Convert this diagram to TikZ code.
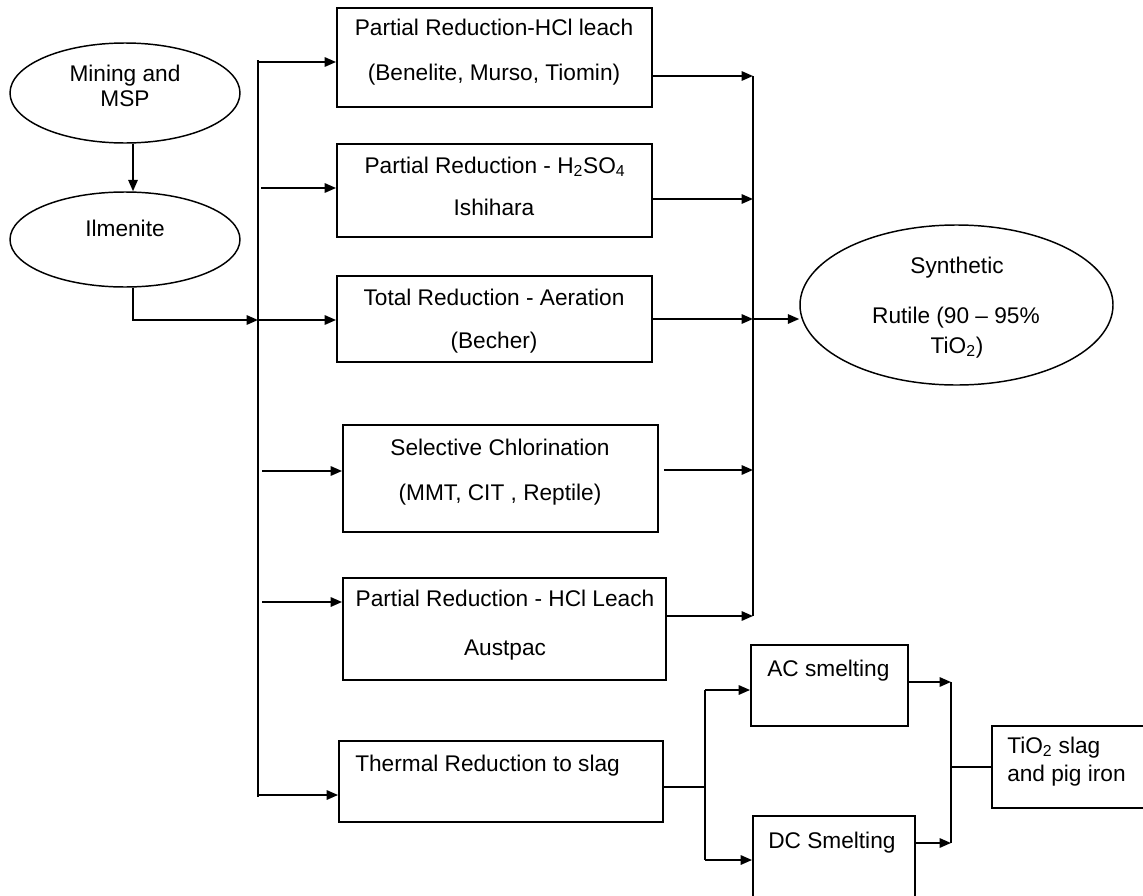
\documentclass[tikz,border=0pt]{standalone}
\usepackage{fontspec}
\setmainfont{Liberation Sans}
\usetikzlibrary{shapes.geometric,arrows.meta}
\newcommand\dfont{\fontsize{17}{20}\selectfont}
\begin{document}
\begin{tikzpicture}[x=0.75pt,y=-0.75pt,
  boxst/.style={draw,line width=1.4pt,rectangle,inner sep=0},
  ellst/.style={draw,line width=1.1pt,ellipse,inner sep=0},
  lbl/.style={inner sep=0,anchor=base,font=\dfont},
  lbll/.style={inner sep=0,anchor=base west,font=\dfont},
  conn/.style={line width=1.4pt},
  arr/.style={line width=1.4pt,-{Triangle[length=8.5pt,width=7pt]}}]
\clip (0,0) rectangle (1143,896);
\fill[white] (0,0) rectangle (1143,896);

% ellipses
\node[ellst,minimum width=172.5pt,minimum height=75pt] (mining) at (125,93) {};
\node[ellst,minimum width=172.5pt,minimum height=71.25pt] (ilm) at (125,239.5) {};
\node[ellst,minimum width=234.75pt,minimum height=120pt] (syn) at (956.5,305) {};
\node[lbl] (tmin1) at (125,81) {Mining and};
\node[lbl] (tmin2) at (125,106) {MSP};
\node[lbl] (tilm) at (125,236) {Ilmenite};
\node[lbl] (tsyn1) at (957,273) {Synthetic};
\node[lbl] (tsyn2) at (956,323) {Rutile (90 \textendash{} 95\%};
\node[lbl] (tsyn3) at (957,353) {TiO\textsubscript{2})};

% process boxes
\node[boxst,minimum width=236.25pt,minimum height=74.25pt] (b1) at (494.5,57.5) {};
\node[boxst,minimum width=236.25pt,minimum height=69.75pt] (b2) at (494.5,190.5) {};
\node[boxst,minimum width=236.25pt,minimum height=64.5pt] (b3) at (494.5,319) {};
\node[boxst,minimum width=236.25pt,minimum height=80.25pt] (b4) at (500.5,478.5) {};
\node[boxst,minimum width=242.25pt,minimum height=76.5pt] (b5) at (504.5,629) {};
\node[boxst,minimum width=243pt,minimum height=60.75pt] (b6) at (501,781.5) {};
\node[boxst,minimum width=117.75pt,minimum height=60.75pt] (ac) at (829.5,685.5) {};
\node[boxst,minimum width=121.5pt,minimum height=70.5pt] (dc) at (834,863) {};
\node[boxst,minimum width=126pt,minimum height=61.5pt] (tio) at (1076,767) {};

\node[lbl] (t11) at (494,35) {Partial Reduction-HCl leach};
\node[lbl] (t12) at (494,80) {(Benelite, Murso, Tiomin)};
\node[lbl] (t21) at (495,173) {Partial Reduction - H\textsubscript{2}SO\textsubscript{4}};
\node[lbl] (t22) at (494,215) {Ishihara};
\node[lbl] (t31) at (494,305) {Total Reduction - Aeration};
\node[lbl] (t32) at (494,348) {(Becher)};
\node[lbl] (t41) at (500,455) {Selective Chlorination};
\node[lbl] (t42) at (500,500) {(MMT, CIT , Reptile)};
\node[lbl] (t51) at (505,606) {Partial Reduction - HCl Leach};
\node[lbl] (t52) at (505,655) {Austpac};
\node[lbll] (t61) at (355,771) {Thermal Reduction to slag};
\node[lbll] (tac) at (767,676) {AC smelting};
\node[lbll] (tdc) at (768,848) {DC Smelting};
\node[lbll] (tt1) at (1007,753) {TiO\textsubscript{2} slag};
\node[lbll] (tt2) at (1007,781) {and pig iron};

% left bus
\coordinate (busA) at (258,60);
\coordinate (busB) at (258,797);
\draw[conn] (busA) -- (busB);
\coordinate (t1) at (258,62);
\coordinate (t2) at (258,188);
\coordinate (t3) at (258,320);
\coordinate (t4) at (258,471);
\coordinate (t5) at (258,602);
\coordinate (t6) at (258,795);

\draw[arr] ([xshift=6pt]mining.south) -- ([xshift=6pt]ilm.north);
\draw[arr] ([xshift=6pt]ilm.south) |- (t3);
\draw[arr] (t1) -- (t1 -| b1.west);
\draw[arr] ([xshift=2.5pt]t2) -- (t2 -| b2.west);
\draw[arr] (t3) -- (t3 -| b3.west);
\draw[arr] ([xshift=3pt]t4) -- (t4 -| b4.west);
\draw[arr] ([xshift=3pt]t5) -- (t5 -| b5.west);
\draw[arr] (t6) -- (t6 -| b6.west);

% right bus
\coordinate (o1) at (753,76);
\coordinate (o2) at (753,199);
\coordinate (o3) at (753,319);
\coordinate (o4) at (753,470);
\coordinate (o5) at (753,616);
\draw[conn] (o1) -- (o5);
\draw[arr] (o1 -| b1.east) -- (o1);
\draw[arr] (o2 -| b2.east) -- (o2);
\draw[arr] (o3 -| b3.east) -- (o3);
\draw[arr] ([xshift=3.75pt]o4 -| b4.east) -- (o4);
\draw[arr] (o5 -| b5.east) -- (o5);
\draw[arr] (o3) -- (o3 -| syn.west);

% smelting branch
\coordinate (s0) at (705,787);
\coordinate (sA) at (705,690);
\coordinate (sD) at (705,860);
\draw[conn] (s0 -| b6.east) -- (s0);
\draw[conn] (sA) -- (sD);
\draw[arr] (sA) -- (sA -| ac.west);
\draw[arr] (sD) -- (sD -| dc.west);

\coordinate (m1) at (951,682);
\coordinate (m2) at (951,843);
\coordinate (m0) at (951,767);
\draw[conn] (m1) -- (m2);
\draw[arr] (m1 -| ac.east) -- (m1);
\draw[arr] (m2 -| dc.east) -- (m2);
\draw[conn] (m0) -- (m0 -| tio.west);
\end{tikzpicture}
\end{document}
